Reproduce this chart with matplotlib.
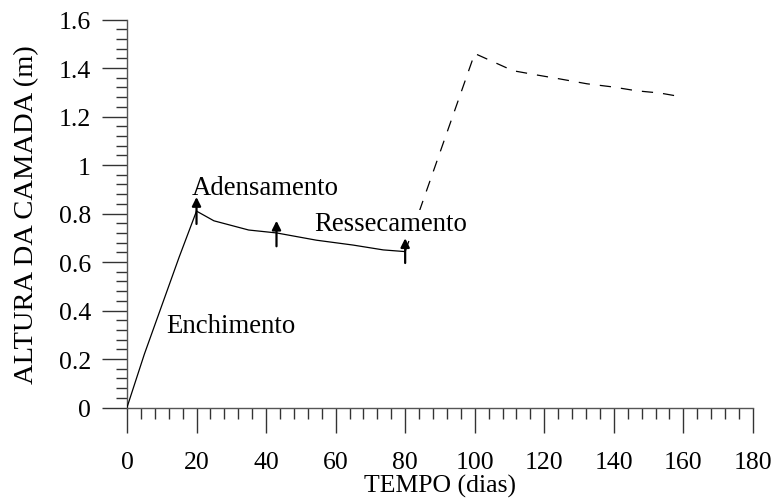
import matplotlib
matplotlib.use("Agg")
import matplotlib.pyplot as plt
from matplotlib.ticker import MultipleLocator, FuncFormatter

plt.rcParams['font.family'] = ['Liberation Serif', 'DejaVu Serif']

# Measured layer height (filling, consolidation, drying)
dias_medido = [0, 5, 10, 15, 20, 25, 35, 43, 54.5, 65, 73.7, 80]
altura_medido = [0, 0.22, 0.42, 0.62, 0.81, 0.77, 0.732, 0.72, 0.69, 0.67, 0.65, 0.643]

# Second stage (dashed)
dias_segunda = [80, 100, 111, 118, 124.5, 132.3, 139.7, 146.6, 153.2, 160]
altura_segunda = [0.643, 1.46, 1.389, 1.371, 1.355, 1.335, 1.322, 1.306, 1.297, 1.28]

# Arrows marking stage transitions: x, y start, y end
seta_x = [20, 43, 80]
seta_y0 = [0.757, 0.665, 0.596]
seta_y1 = [0.868, 0.77, 0.698]

# Stage labels: text, x, y
rotulos = ["Enchimento", "Adensamento", "Ressecamento"]
rotulo_x = [11.2, 18.6, 54.0]
rotulo_y = [0.311, 0.88, 0.733]

fig = plt.figure(figsize=(7.77, 5.02), dpi=100)
ax = fig.add_axes([0.1634, 0.1862, 0.8056, 0.7729])

ax.plot(dias_segunda, altura_segunda, color='black', lw=0.9,
        linestyle=(0, (9, 8)), zorder=2)
ax.plot(dias_medido, altura_medido, color='black', lw=0.9, zorder=3)

for x, y0, y1 in zip(seta_x, seta_y0, seta_y1):
    ax.annotate("", xy=(x, y1), xytext=(x, y0),
                arrowprops=dict(arrowstyle='-|>', lw=1.6, color='black',
                                mutation_scale=13, shrinkA=0, shrinkB=0),
                zorder=5)

for t, x, y in zip(rotulos, rotulo_x, rotulo_y):
    ax.text(x, y, t, fontsize=19.3, ha='left', va='baseline', zorder=4,
            bbox=dict(facecolor='white', edgecolor='none', pad=0.5))

ax.set_xlim(0, 180)
ax.set_ylim(0, 1.6)
ax.xaxis.set_major_locator(MultipleLocator(20))
ax.xaxis.set_minor_locator(MultipleLocator(4))
ax.yaxis.set_major_locator(MultipleLocator(0.2))
ax.yaxis.set_minor_locator(MultipleLocator(0.04))
ax.yaxis.set_major_formatter(FuncFormatter(lambda v, p: f"{v:g}"))

for s in ['top', 'right']:
    ax.spines[s].set_visible(False)
for s in ['left', 'bottom']:
    ax.spines[s].set_linewidth(1.0)
    ax.spines[s].set_color('#555555')

ax.tick_params(axis='both', which='major', direction='out', length=18,
               width=1.0, labelsize=18.5, color='#333333')
ax.tick_params(axis='both', which='minor', direction='out', length=8,
               width=1.0, color='#333333')
ax.tick_params(axis='x', which='major', pad=13)
ax.tick_params(axis='y', which='major', pad=8)

ax.set_xlabel("TEMPO (dias)", fontsize=18.5, labelpad=1)
ax.set_ylabel("ALTURA DA CAMADA (m)", fontsize=20.5, labelpad=14)

fig.savefig("out.png", dpi=100)
